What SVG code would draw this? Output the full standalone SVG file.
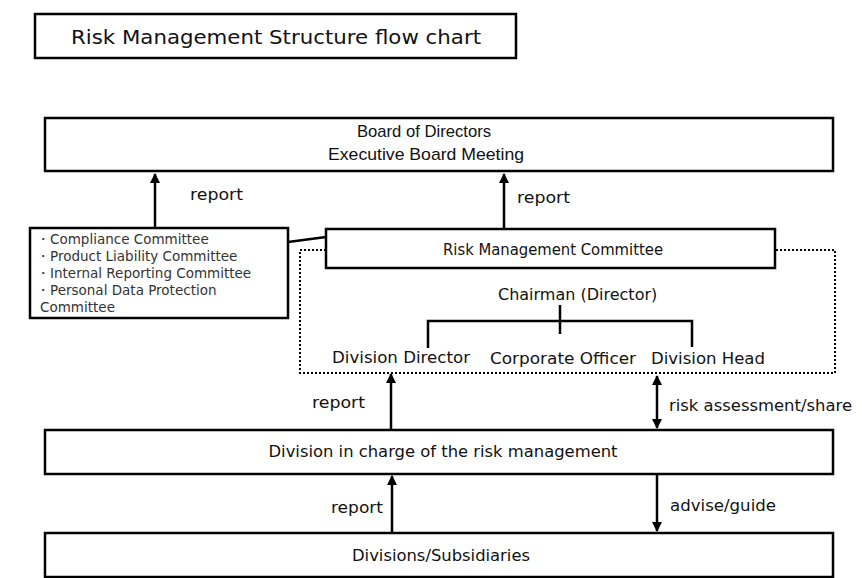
<svg xmlns="http://www.w3.org/2000/svg" width="862" height="578" viewBox="0 0 862 578">
<style>
.box{fill:#fff;stroke:#000;stroke-width:2.5}
.ln{fill:none;stroke:#000;stroke-width:2.5}
.dot{fill:none;stroke:#000;stroke-width:2;stroke-dasharray:2 2}
text{font-family:"DejaVu Sans","Noto Sans",sans-serif;fill:#111}
.c{text-anchor:middle}
.s15{font-size:15px}
.s16{font-size:16px}
.n{font-family:"Liberation Sans",Arial,sans-serif;font-size:17px}
.g{font-size:13.5px;fill:#333}
</style>
<defs>
<marker id="ah" viewBox="0 0 10 10" refX="9" refY="5" markerWidth="4" markerHeight="4" orient="auto-start-reverse">
<path d="M0,0 L10,5 L0,10 z" fill="#000"/>
</marker>
</defs>
<rect width="862" height="578" fill="#fff"/>
<g id="title">
<rect class="box" x="35" y="14" width="481" height="44"/>
<text class="c" x="276" y="44" style="font-size:20px" textLength="410" lengthAdjust="spacingAndGlyphs">Risk Management Structure flow chart</text>
</g>
<g id="board">
<rect class="box" x="45" y="118" width="788" height="53"/>
<text class="c n" x="424" y="137" textLength="134" lengthAdjust="spacingAndGlyphs">Board of Directors</text>
<text class="c n" x="426" y="160" textLength="196" lengthAdjust="spacingAndGlyphs">Executive Board Meeting</text>
</g>
<g id="committees">
<rect class="box" x="30" y="228" width="258" height="90"/>
<text class="g" x="36" y="244">・Compliance Committee</text>
<text class="g" x="36" y="261">・Product Liability Committee</text>
<text class="g" x="36" y="278">・Internal Reporting Committee</text>
<text class="g" x="36" y="295">・Personal Data Protection</text>
<text class="g" x="40" y="312">Committee</text>
</g>
<g id="rmc-group">
<path class="dot" d="M326,250 H300 V373 H835 V250 H775"/>
</g>
<g id="rmc">
<rect class="box" x="326" y="229" width="449" height="39"/>
<text class="c s15" x="553" y="255" textLength="220" lengthAdjust="spacingAndGlyphs">Risk Management Committee</text>
</g>
<g id="chairman">
<text class="s16" x="498" y="300">Chairman (Director)</text>
</g>
<g id="division-director"><text class="c s16" x="401" y="363" textLength="138" lengthAdjust="spacingAndGlyphs">Division Director</text></g>
<g id="corporate-officer"><text class="c s16" x="563" y="364" textLength="146" lengthAdjust="spacingAndGlyphs">Corporate Officer</text></g>
<g id="division-head"><text class="c s16" x="708" y="364" textLength="114" lengthAdjust="spacingAndGlyphs">Division Head</text></g>
<g id="division-rm">
<rect class="box" x="45" y="430" width="788" height="44"/>
<text class="c s16" x="443" y="457" textLength="349" lengthAdjust="spacingAndGlyphs">Division in charge of the risk management</text>
</g>
<g id="divisions">
<rect class="box" x="45" y="533" width="788" height="44"/>
<text class="c s16" x="441" y="561" textLength="178" lengthAdjust="spacingAndGlyphs">Divisions/Subsidiaries</text>
</g>
<g id="connectors">
<line class="ln" x1="155" y1="228" x2="155" y2="174" marker-end="url(#ah)"/>
<line class="ln" x1="504" y1="229" x2="504" y2="174" marker-end="url(#ah)"/>
<line class="ln" x1="288" y1="242" x2="326" y2="237"/>
<line class="ln" x1="560" y1="305" x2="560" y2="334"/>
<path class="ln" d="M428,348 V321 H692 V347"/>
<line class="ln" x1="391" y1="430" x2="391" y2="374" marker-end="url(#ah)"/>
<line class="ln" x1="657" y1="376" x2="657" y2="428" marker-start="url(#ah)" marker-end="url(#ah)"/>
<line class="ln" x1="392" y1="533" x2="392" y2="476" marker-end="url(#ah)"/>
<line class="ln" x1="657" y1="475" x2="657" y2="531" marker-end="url(#ah)"/>
<text class="s16" x="190" y="200" textLength="53" lengthAdjust="spacingAndGlyphs">report</text>
<text class="s16" x="517" y="203" textLength="53" lengthAdjust="spacingAndGlyphs">report</text>
<text class="s16" x="312" y="408" textLength="53" lengthAdjust="spacingAndGlyphs">report</text>
<text class="s16" x="669" y="411" textLength="183" lengthAdjust="spacingAndGlyphs">risk assessment/share</text>
<text class="s16" x="331" y="513" textLength="52" lengthAdjust="spacingAndGlyphs">report</text>
<text class="s16" x="670" y="511" textLength="106" lengthAdjust="spacingAndGlyphs">advise/guide</text>
</g>
</svg>
